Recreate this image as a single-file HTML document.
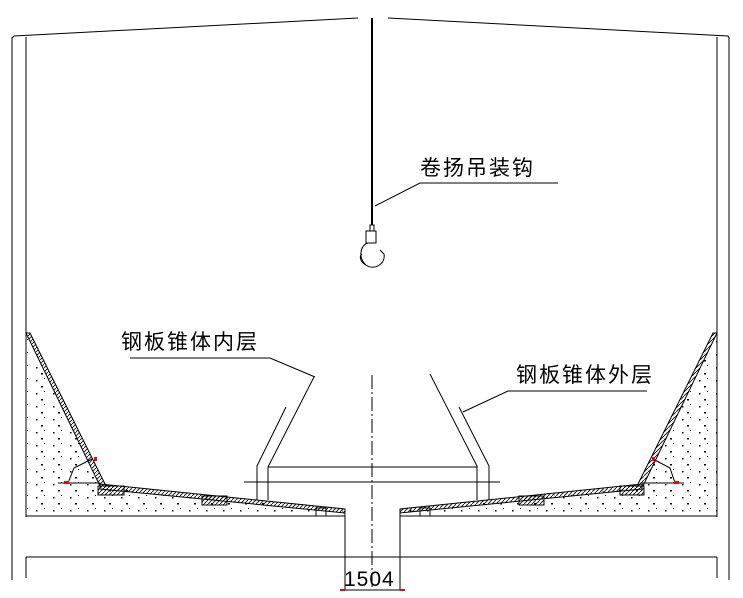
<!DOCTYPE html>
<html><head><meta charset="utf-8"><style>
html,body{margin:0;padding:0;background:#fff;}
svg{display:block;}
text{font-family:"Liberation Sans","Noto Sans CJK SC",sans-serif;}
</style></head><body>
<svg width="743" height="598" viewBox="0 0 743 598" xmlns="http://www.w3.org/2000/svg">
<defs>
<pattern id="dots" width="17" height="13" patternUnits="userSpaceOnUse">
<rect x="2" y="3" width="1.5" height="1.5" fill="#000"/>
<rect x="10" y="1" width="1" height="1" fill="#000"/>
<rect x="7" y="9" width="2" height="1.5" fill="#000"/>
</pattern>
<pattern id="hatch" width="4" height="4" patternUnits="userSpaceOnUse">
<path d="M0,4 L4,0" stroke="#000" stroke-width="0.8"/>
</pattern>
</defs>
<g stroke="#000" stroke-width="1" fill="none">
<polyline points="12,38 14,36 358,18"/>
<polyline points="388,18 728,36 729,38"/>
<line x1="12" y1="37" x2="12" y2="580"/>
<line x1="26" y1="37" x2="26" y2="517"/>
<line x1="729" y1="37" x2="729" y2="580"/>
<line x1="717" y1="37" x2="717" y2="517"/>
<polygon points="26,333 100,487 345,511 345,516 26,516" fill="url(#dots)" stroke="none"/>
<polygon points="717,333 642,487 400,511 400,516 717,516" fill="url(#dots)" stroke="none"/>
<polygon points="26,333 30,333 106,486 100,486" fill="url(#hatch)"/>
<polygon points="717,333 713,333 637,486 643,486" fill="url(#hatch)"/>
<polygon points="100,484 345,509 345,513 100,489" fill="url(#hatch)"/>
<polygon points="642,484 400,509 400,513 642,489" fill="url(#hatch)"/>
<rect x="98" y="486" width="26" height="9" fill="url(#hatch)"/>
<rect x="202" y="496" width="25" height="9" fill="url(#hatch)"/>
<rect x="316" y="508" width="10" height="8"/>
<rect x="620" y="486" width="24" height="9" fill="url(#hatch)"/>
<rect x="519" y="496" width="25" height="9" fill="url(#hatch)"/>
<rect x="420" y="508" width="10" height="8"/>
<line x1="26" y1="516" x2="345" y2="516"/>
<line x1="400" y1="516" x2="717" y2="516"/>
<line x1="345" y1="511" x2="345" y2="590"/>
<line x1="400" y1="511" x2="400" y2="590"/>
<line x1="26" y1="557" x2="717" y2="557"/>
<line x1="26" y1="557" x2="26" y2="578"/>
<line x1="717" y1="557" x2="717" y2="578"/>
<line x1="343" y1="590" x2="402" y2="590"/>
<line x1="58" y1="483" x2="100" y2="483"/>
<line x1="642" y1="483" x2="684" y2="483"/>
<path d="M68,483 L74,468 L92,459"/>
<path d="M675,483 L670,468 L653,459"/>
<polyline points="314,377 268,467 268,500"/>
<polyline points="286,407 257,466 257,500"/>
<polyline points="430,374 477,466 477,500"/>
<polyline points="459,407 489,466 489,500"/>
<line x1="268" y1="467" x2="477" y2="467"/>
<line x1="244" y1="482" x2="500" y2="482"/>
<line x1="372" y1="375" x2="372" y2="590" stroke-dasharray="14,3,2,3"/>
<line x1="372" y1="18" x2="372" y2="225" stroke-width="2"/>
<rect x="370" y="225" width="4" height="6"/>
<rect x="366" y="231" width="10" height="12"/>
<path d="M368,243 C360,245 358,258 366,265 C374,271 386,264 384,254 L380,250 M366,265 C360,262 359,256 362,254"/>
<polyline points="375,206 420,183 558,183"/>
<polyline points="130,358 270,358 315,377"/>
<polyline points="463,412 508,391 647,391"/>
</g>
<g fill="red">
<rect x="64" y="481" width="5" height="3"/><rect x="94" y="457" width="3" height="4"/>
<rect x="674" y="481" width="5" height="3"/><rect x="652" y="457" width="3" height="4"/>
<rect x="340" y="589" width="5" height="2"/><rect x="400" y="589" width="5" height="2"/>
</g>
<g font-size="21" fill="#000" letter-spacing="2">
<text x="420" y="175">卷扬吊装钩</text>
<text x="121" y="349">钢板锥体内层</text>
<text x="516" y="382">钢板锥体外层</text>
<text x="344" y="586" font-size="21" letter-spacing="1">1504</text>
</g>
</svg>
</body></html>
